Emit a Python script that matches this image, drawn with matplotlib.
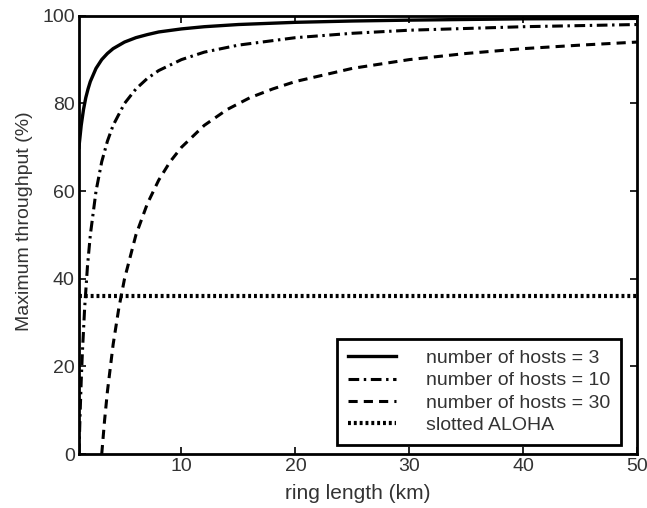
import matplotlib
matplotlib.use('Agg')
import matplotlib.pyplot as plt

# values
ring_3 = [1, 1.2, 1.4, 1.6, 1.8, 2, 2.5, 3, 3.5, 4, 5, 6, 7, 8, 10, 12, 15, 20, 25, 30, 40, 50]
thr_3 = [70, 75, 78.6, 81.3, 83.3, 85, 88, 90, 91.4, 92.5, 94, 95, 95.7, 96.3, 97, 97.5, 98, 98.5, 98.8, 99, 99.3, 99.4]

ring_10 = [1, 1.1, 1.2, 1.3, 1.5, 1.75, 2, 2.5, 3, 3.5, 4, 5, 6, 7, 8, 10, 12, 15, 20, 25, 30, 40, 50]
thr_10 = [0, 9, 16.7, 23, 33.3, 42.9, 50, 60, 66.7, 71.4, 75, 80, 83.3, 85.7, 87.5, 90, 91.7, 93.3, 95, 96, 96.7, 97.5, 98]

ring_30 = [3, 3.25, 3.5, 4, 4.5, 5, 6, 7, 8, 9, 10, 12, 14, 16, 18, 20, 25, 30, 35, 40, 45, 50]
thr_30 = [0, 7.7, 14.3, 25, 33.3, 40, 50, 57.1, 62.5, 66.7, 70, 75, 78.6, 81.3, 83.3, 85, 88, 90, 91.4, 92.5, 93.3, 94]

ring_aloha = [1, 50]
thr_aloha = [36, 36]

labels = ['number of hosts = 3', 'number of hosts = 10', 'number of hosts = 30', 'slotted ALOHA']

plt.rcParams['font.family'] = ['Liberation Sans', 'DejaVu Sans']
txt = '#333333'

fig = plt.figure(figsize=(6.47, 5.08), dpi=100)
ax = fig.add_axes([0.122, 0.106, 0.863, 0.863])

ax.plot(ring_3, thr_3, color='black', lw=2.4, label=labels[0])
ax.plot(ring_10, thr_10, color='black', lw=2.2, dashes=(3.5, 1.5, 0.8, 1.5), label=labels[1])
ax.plot(ring_30, thr_30, color='black', lw=2.2, dashes=(3, 2), label=labels[2])
ax.plot(ring_aloha, thr_aloha, color='black', lw=3, dashes=(0.7, 0.7), label=labels[3])

ax.set_xlim(1, 50)
ax.set_ylim(0, 100)
ax.set_xticks([10, 20, 30, 40, 50])
ax.set_yticks([0, 20, 40, 60, 80, 100])
ax.tick_params(direction='in', length=5, width=1.2, top=True, right=True, colors='black',
               labelcolor=txt, labelsize=14, pad=3)
for s in ax.spines.values():
    s.set_linewidth(2)

ax.set_xlabel('ring length (km)', color=txt, fontsize=15)
ax.xaxis.set_label_coords(0.5, -0.068)
ax.set_ylabel('Maximum throughput (%)', color=txt, fontsize=14)
ax.yaxis.set_label_coords(-0.083, 0.532)

leg = ax.legend(loc='lower right', bbox_to_anchor=(0.97, 0.021), borderaxespad=0,
                fancybox=False, edgecolor='black', framealpha=1, fontsize=14,
                handlelength=2.5, handletextpad=1.5, labelspacing=0.25, borderpad=0.55)
leg.get_frame().set_linewidth(2)
for t in leg.get_texts():
    t.set_color(txt)

fig.savefig('out.png', dpi=100)
